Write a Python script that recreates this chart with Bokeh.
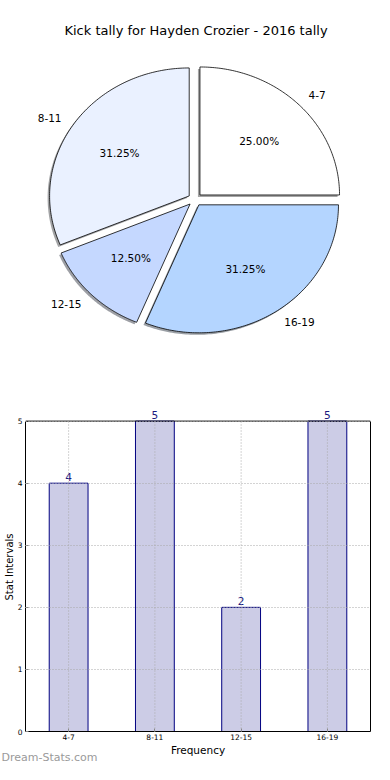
import numpy as np
from bokeh.plotting import figure
from bokeh.layouts import column
from bokeh.models import (ColumnDataSource, LabelSet, FixedTicker, Range1d, FactorRange,
                          LinearAxis, Span, Title)
from bokeh.core.properties import value
from bokeh.embed import file_html
from bokeh.resources import INLINE

# ---------------- data ----------------
title_text = "Kick tally for Hayden Crozier - 2016 tally"
categories = ["4-7", "8-11", "12-15", "16-19"]
counts = [4, 5, 2, 5]
slice_colors = ["#ffffff", "#eaf1ff", "#c5d8ff", "#b4d5ff"]
y_ticks = [0, 1, 2, 3, 4, 5]
x_label = "Frequency"
y_label = "Stat Intervals"
watermark = "Dream-Stats.com"

FONT = "DejaVu Sans"
W = 374
PIE_H = 388
BAR_H = 376
L_BORDER, R_BORDER = 24, 4      # shared (column aligns plot borders)

# ---------------- pie ----------------
RX, RY = 140.0, 128.0          # pixels per unit radius (matplotlib non-equal axes)
CX, CY = 194.0, 199.0          # pie centre on the canvas
pie = figure(width=W, height=PIE_H, output_backend="svg", toolbar_location=None,
             x_range=Range1d(-(CX - L_BORDER) / RX, (W - R_BORDER - CX) / RX),
             y_range=Range1d(-(PIE_H - CY) / RY, CY / RY),
             x_axis_location=None, y_axis_location=None,
             min_border_left=L_BORDER, min_border_right=R_BORDER,
             min_border_top=0, min_border_bottom=0)
pie.grid.visible = False
pie.outline_line_color = None

total = float(sum(counts))
explode = 0.05
sh_dx, sh_dy = -2.0 / RX, -2.0 / RY

sl_xs, sl_ys, sh_xs, sh_ys, sh_cols = [], [], [], [], []
lab_l = dict(x=[], y=[], t=[])
lab_r = dict(x=[], y=[], t=[])
pct = dict(x=[], y=[], t=[])
theta = 0.0
for cnt, col in zip(counts, slice_colors):
    frac = cnt / total
    t1, t2 = theta, theta + 2 * np.pi * frac
    theta = t2
    mid = 0.5 * (t1 + t2)
    ox, oy = explode * np.cos(mid), explode * np.sin(mid)
    ts = np.linspace(t1, t2, 120)
    px = np.concatenate([[ox], ox + np.cos(ts), [ox]])
    py = np.concatenate([[oy], oy + np.sin(ts), [oy]])
    sl_xs.append(list(px)); sl_ys.append(list(py))
    sh_xs.append(list(px + sh_dx)); sh_ys.append(list(py + sh_dy))
    r, g, b = int(col[1:3], 16), int(col[3:5], 16), int(col[5:7], 16)
    sh_cols.append("#%02x%02x%02x" % (int(r * 0.3), int(g * 0.3), int(b * 0.3)))
    lx, ly = ox + 1.1 * np.cos(mid), oy + 1.1 * np.sin(mid)
    d = lab_l if lx > 0 else lab_r
    d["x"].append(lx); d["y"].append(ly); d["t"].append(categories[len(sl_xs) - 1])
    pct["x"].append(ox + 0.6 * np.cos(mid)); pct["y"].append(oy + 0.6 * np.sin(mid))
    pct["t"].append("%.2f%%" % (frac * 100))

pie.patches(xs=sh_xs, ys=sh_ys, fill_color=sh_cols, fill_alpha=0.5, line_color=None)
pie.patches(xs=sl_xs, ys=sl_ys, fill_color=slice_colors, line_color="black", line_width=0.8)

pie.text(x="x", y="y", text="t", source=ColumnDataSource(lab_l), text_align="left",
         text_baseline="middle", text_font=value(FONT), text_font_size="10.5px", text_color="black")
pie.text(x="x", y="y", text="t", source=ColumnDataSource(lab_r), text_align="right",
         text_baseline="middle", text_font=value(FONT), text_font_size="10.5px", text_color="black")
pie.text(x="x", y="y", text="t", source=ColumnDataSource(pct), text_align="center",
         text_baseline="middle", text_font=value(FONT), text_font_size="10.5px", text_color="black")
pie.text(x=[(195.0 - CX) / RX], y=[(CY - 29.5) / RY], text=[title_text], text_align="center",
         text_baseline="middle", text_font=value(FONT), text_font_size="13px", text_color="black")

# ---------------- bar ----------------
Y_TOP = 5.3     # a little head-room so the value labels above the tallest bars show
bar = figure(width=W, height=BAR_H, output_backend="svg", toolbar_location=None,
             x_range=FactorRange(*categories), y_range=Range1d(0, Y_TOP),
             min_border_left=L_BORDER, min_border_right=R_BORDER,
             min_border_top=14, min_border_bottom=33)
bar.xgrid.visible = False
bar.ygrid.grid_line_color = "#a8a8a8"
bar.ygrid.grid_line_dash = "1 2"
bar.ygrid.level = "overlay"
src = ColumnDataSource(dict(cat=categories, cnt=counts, lab=[str(c) for c in counts],
                            y0=[min(y_ticks)] * len(categories),
                            y1=[max(y_ticks)] * len(categories)))
bar.vbar(x="cat", top="cnt", width=0.45, source=src, fill_color="#ccccE6",
         line_color="#000080", line_width=1)
# vertical grid lines (matplotlib-style, only inside the axes box)
bar.segment(x0="cat", y0="y0", x1="cat", y1="y1", source=src, line_color="#a8a8a8",
            line_dash="1 2", line_width=1, level="overlay")
bar.add_layout(LabelSet(x="cat", y="cnt", text="lab", source=src, y_offset=2,
                        text_align="center", text_baseline="bottom", text_font=value(FONT),
                        text_font_size="10.5px", text_color="#1a1a80"))

bar.outline_line_color = None
bar.add_layout(Span(location=max(y_ticks), dimension="width", line_color="black", line_width=1))

left_ax = bar.yaxis[0]
left_ax.ticker = FixedTicker(ticks=y_ticks)
left_ax.bounds = (min(y_ticks), max(y_ticks))
left_ax.axis_label = y_label
bottom_ax = bar.xaxis[0]
bottom_ax.axis_label = x_label
for ax in (bottom_ax, left_ax):
    ax.axis_line_color = "black"
    ax.major_tick_in = 3
    ax.major_tick_out = 0
    ax.major_tick_line_color = "#888888"
    ax.minor_tick_line_color = None
    ax.major_label_text_font = FONT
    ax.major_label_text_font_size = "7.5px"
    ax.major_label_text_color = "black"
    ax.major_label_standoff = 2
    ax.axis_label_text_font = FONT
    ax.axis_label_text_font_size = "10.5px"
    ax.axis_label_text_font_style = "normal"
    ax.axis_label_text_color = "black"
    ax.axis_label_standoff = 1
left_ax.major_label_standoff = 3
left_ax.axis_label_standoff = 0
left_ax.axis_label_text_font_size = "10px"

# right edge of the axes box
right_ax = LinearAxis(ticker=FixedTicker(ticks=[]), bounds=(min(y_ticks), max(y_ticks)),
                      axis_line_color="black", major_tick_in=0, major_tick_out=0,
                      minor_tick_line_color=None, major_label_standoff=0)
bar.add_layout(right_ax, "right")

bar.add_layout(Title(text=watermark, align="left", vertical_align="top",
                     offset=-L_BORDER, standoff=-15,
                     text_font=FONT, text_font_size="11px", text_font_style="normal",
                     text_color="#9a9a9a"), "below")

layout = column(pie, bar)
open("out.html", "w").write(file_html(layout, INLINE))
